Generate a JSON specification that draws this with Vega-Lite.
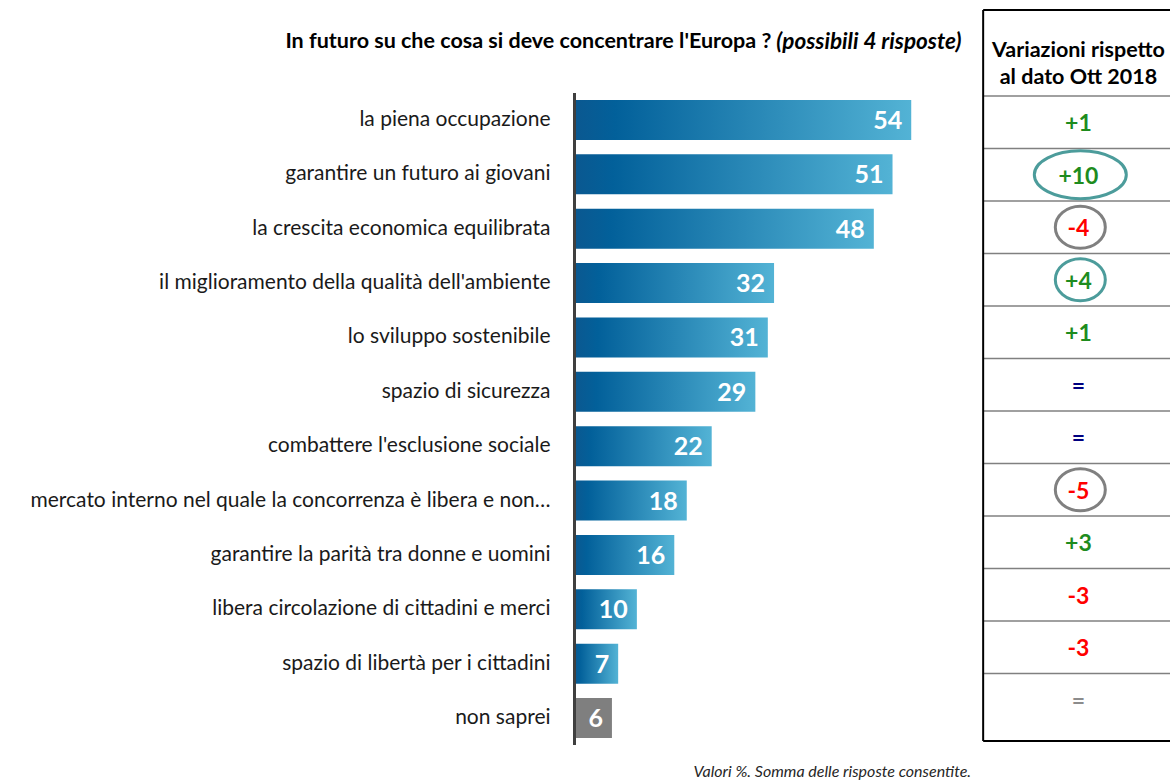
{
  "$schema": "https://vega.github.io/schema/vega-lite/v6.json",
  "width": 1171,
  "height": 783,
  "padding": 0,
  "autosize": {"type": "fit", "contains": "padding"},
  "background": "#ffffff",
  "config": {
    "view": {"stroke": null},
    "axis": {"disable": true},
    "legend": {"disable": true},
    "font": "Lato"
  },
  "datasets": {
    "risposte": [
      {"voce": "la piena occupazione", "valore": 54, "gruppo": "risposta", "variazione": "+1", "tendenza": "aumento", "evidenziato": false},
      {"voce": "garantire un futuro ai giovani", "valore": 51, "gruppo": "risposta", "variazione": "+10", "tendenza": "aumento", "evidenziato": true},
      {"voce": "la crescita economica equilibrata", "valore": 48, "gruppo": "risposta", "variazione": "-4", "tendenza": "calo", "evidenziato": true},
      {"voce": "il miglioramento della qualità dell'ambiente", "valore": 32, "gruppo": "risposta", "variazione": "+4", "tendenza": "aumento", "evidenziato": true},
      {"voce": "lo sviluppo sostenibile", "valore": 31, "gruppo": "risposta", "variazione": "+1", "tendenza": "aumento", "evidenziato": false},
      {"voce": "spazio di sicurezza", "valore": 29, "gruppo": "risposta", "variazione": "=", "tendenza": "stabile", "evidenziato": false},
      {"voce": "combattere l'esclusione sociale", "valore": 22, "gruppo": "risposta", "variazione": "=", "tendenza": "stabile", "evidenziato": false},
      {"voce": "mercato interno nel quale la concorrenza è libera e non…", "valore": 18, "gruppo": "risposta", "variazione": "-5", "tendenza": "calo", "evidenziato": true},
      {"voce": "garantire la parità tra donne e uomini", "valore": 16, "gruppo": "risposta", "variazione": "+3", "tendenza": "aumento", "evidenziato": false},
      {"voce": "libera circolazione di cittadini e merci", "valore": 10, "gruppo": "risposta", "variazione": "-3", "tendenza": "calo", "evidenziato": false},
      {"voce": "spazio di libertà per i cittadini", "valore": 7, "gruppo": "risposta", "variazione": "-3", "tendenza": "calo", "evidenziato": false},
      {"voce": "non saprei", "valore": 6, "gruppo": "non sa", "variazione": "=", "tendenza": "n.d.", "evidenziato": false}
    ]
  },
  "data": {"name": "risposte"},
  "layer": [
    {
      "layer": [
        {
          "transform": [{"filter": "datum.gruppo === 'risposta'"}],
          "mark": {
            "type": "bar",
            "fill": {
              "gradient": "linear", "x1": 0, "x2": 1, "y1": 0, "y2": 0,
              "stops": [
                {"offset": 0, "color": "#0b5890"},
                {"offset": 0.12, "color": "#02609a"},
                {"offset": 1, "color": "#53b3d5"}
              ]
            }
          },
          "encoding": {
            "x": {"field": "valore", "type": "quantitative", "scale": {"domain": [-92.14, 95.5], "zero": false, "nice": false}},
            "y": {"field": "voce", "type": "nominal", "sort": null,
              "scale": {
                "type": "band",
                "domain": ["la piena occupazione", "garantire un futuro ai giovani", "la crescita economica equilibrata", "il miglioramento della qualità dell'ambiente", "lo sviluppo sostenibile", "spazio di sicurezza", "combattere l'esclusione sociale", "mercato interno nel quale la concorrenza è libera e non…", "garantire la parità tra donne e uomini", "libera circolazione di cittadini e merci", "spazio di libertà per i cittadini", "non saprei"],
                "range": [100, 738],
                "paddingInner": 0.264, "paddingOuter": 0
              }}
          }
        },
        {
          "transform": [{"filter": "datum.gruppo === 'non sa'"}],
          "mark": {"type": "bar", "fill": "#7f7f7f"},
          "encoding": {
            "x": {"field": "valore", "type": "quantitative"},
            "y": {"field": "voce", "type": "nominal", "sort": null}
          }
        },
        {
          "mark": {"type": "text", "align": "right", "baseline": "middle", "dx": -9, "dy": 1, "color": "#ffffff", "fontSize": 25, "fontWeight": "bold"},
          "encoding": {
            "x": {"field": "valore", "type": "quantitative"},
            "y": {"field": "voce", "type": "nominal", "sort": null},
            "text": {"field": "valore", "type": "quantitative"}
          }
        },
        {
          "mark": {"type": "text", "align": "right", "baseline": "middle", "dx": -24, "color": "#1a1a1a", "fontSize": 21},
          "encoding": {
            "x": {"datum": 0},
            "y": {"field": "voce", "type": "nominal", "sort": null},
            "text": {"field": "voce", "type": "nominal"}
          }
        },
        {
          "mark": {"type": "rule", "stroke": "#404040", "strokeWidth": 2},
          "encoding": {
            "x": {"datum": 0},
            "y": {"datum": "la piena occupazione", "bandPosition": -0.175},
            "y2": {"datum": "non saprei", "bandPosition": 1.175}
          }
        },
        {
          "data": {"values": [{"testo": "In futuro su che cosa si deve concentrare l'Europa ?"}]},
          "mark": {"type": "text", "align": "right", "baseline": "middle", "fontSize": 21.5, "fontWeight": "bold", "color": "#000000"},
          "encoding": {
            "x": {"datum": 31.57},
            "y": {"datum": "la piena occupazione", "bandPosition": -1.45},
            "text": {"field": "testo", "type": "nominal"}
          }
        },
        {
          "data": {"values": [{"testo": "(possibili 4 risposte)"}]},
          "mark": {"type": "text", "align": "left", "baseline": "middle", "fontSize": 22.5, "fontWeight": "bold", "fontStyle": "italic", "color": "#000000"},
          "encoding": {
            "x": {"datum": 32.37},
            "y": {"datum": "la piena occupazione", "bandPosition": -1.45},
            "text": {"field": "testo", "type": "nominal"}
          }
        },
        {
          "data": {"values": [{"testo": "Valori %. Somma delle risposte consentite."}]},
          "mark": {"type": "text", "align": "right", "baseline": "middle", "fontSize": 16, "fontStyle": "italic", "color": "#262626"},
          "encoding": {
            "x": {"datum": 63.6},
            "y": {"datum": "non saprei", "bandPosition": 1.85},
            "text": {"field": "testo", "type": "nominal"}
          }
        }
      ]
    },
    {
      "layer": [
        {
          "mark": {"type": "rule", "stroke": "#808080", "strokeWidth": 1.5},
          "encoding": {
            "x": {"datum": 0, "scale": {"domain": [-5.262, 1], "zero": false, "nice": false}},
            "x2": {"datum": 1},
            "y": {"field": "voce", "type": "nominal", "sort": null, "bandPosition": 0,
              "scale": {
                "type": "band",
                "domain": ["la piena occupazione", "garantire un futuro ai giovani", "la crescita economica equilibrata", "il miglioramento della qualità dell'ambiente", "lo sviluppo sostenibile", "spazio di sicurezza", "combattere l'esclusione sociale", "mercato interno nel quale la concorrenza è libera e non…", "garantire la parità tra donne e uomini", "libera circolazione di cittadini e merci", "spazio di libertà per i cittadini", "non saprei"],
                "range": [96, 726],
                "paddingInner": 0, "paddingOuter": 0
              }}
          }
        },
        {
          "data": {"values": [{"lato": "sopra"}]},
          "mark": {"type": "rule", "stroke": "#000000", "strokeWidth": 2},
          "encoding": {
            "x": {"datum": 0},
            "x2": {"datum": 1},
            "y": {"datum": "la piena occupazione", "bandPosition": -1.638}
          }
        },
        {
          "data": {"values": [{"lato": "sotto"}]},
          "mark": {"type": "rule", "stroke": "#000000", "strokeWidth": 2},
          "encoding": {
            "x": {"datum": 0},
            "x2": {"datum": 1},
            "y": {"datum": "non saprei", "bandPosition": 1.286}
          }
        },
        {
          "data": {"values": [{"lato": "sinistra"}]},
          "mark": {"type": "rule", "stroke": "#000000", "strokeWidth": 2},
          "encoding": {
            "x": {"datum": 0},
            "y": {"datum": "la piena occupazione", "bandPosition": -1.638},
            "y2": {"datum": "non saprei", "bandPosition": 1.286}
          }
        },
        {
          "data": {"values": [{"testo": "Variazioni rispetto\nal dato Ott 2018"}]},
          "mark": {"type": "text", "align": "center", "baseline": "middle", "fontSize": 21.5, "fontWeight": "bold", "color": "#000000", "lineBreak": "\n", "lineHeight": 27},
          "encoding": {
            "x": {"datum": 0.51},
            "y": {"datum": "la piena occupazione", "bandPosition": -0.857},
            "text": {"field": "testo", "type": "nominal"}
          }
        },
        {
          "transform": [{"filter": "datum.evidenziato && datum.variazione === '+10'"}],
          "mark": {"type": "point", "filled": false, "strokeWidth": 3, "opacity": 1,
            "shape": "M -1 0 A 1 0.52 0 1 0 1 0 A 1 0.52 0 1 0 -1 0"},
          "encoding": {
            "x": {"datum": 0.52},
            "y": {"field": "voce", "type": "nominal", "sort": null},
            "size": {"value": 8464},
            "stroke": {"field": "tendenza", "type": "nominal", "scale": {"domain": ["aumento", "calo"], "range": ["#4c9c9b", "#808080"]}, "legend": null}
          }
        },
        {
          "transform": [{"filter": "datum.evidenziato && datum.variazione !== '+10'"}],
          "mark": {"type": "point", "filled": false, "strokeWidth": 3, "opacity": 1,
            "shape": "M -1 0 A 1 0.84 0 1 0 1 0 A 1 0.84 0 1 0 -1 0"},
          "encoding": {
            "x": {"datum": 0.52},
            "y": {"field": "voce", "type": "nominal", "sort": null},
            "size": {"value": 2500},
            "stroke": {"field": "tendenza", "type": "nominal", "legend": null}
          }
        },
        {
          "mark": {"type": "text", "align": "center", "baseline": "middle", "dy": 2, "fontSize": 23, "fontWeight": "bold"},
          "encoding": {
            "x": {"datum": 0.51},
            "y": {"field": "voce", "type": "nominal", "sort": null},
            "text": {"field": "variazione", "type": "nominal"},
            "color": {"field": "tendenza", "type": "nominal", "scale": {"domain": ["aumento", "calo", "stabile", "n.d."], "range": ["#1e8c1e", "#ff0000", "#000080", "#8c8c8c"]}, "legend": null}
          }
        }
      ]
    }
  ],
  "resolve": {"scale": {"x": "independent", "y": "independent", "color": "independent", "stroke": "independent"}}
}
